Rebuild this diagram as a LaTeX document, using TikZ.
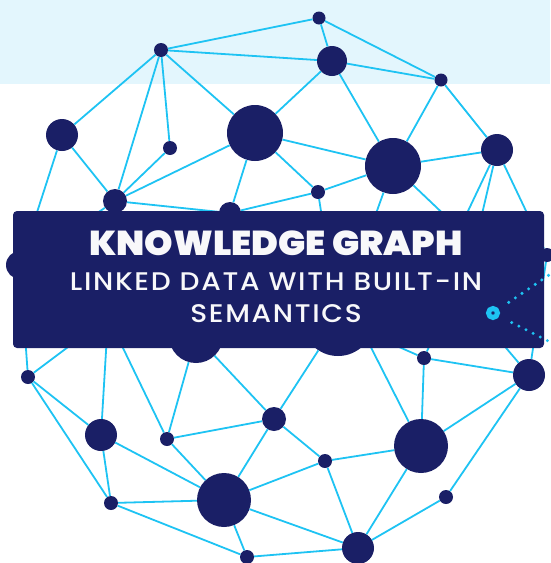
\documentclass[tikz,border=0pt]{standalone}
\usepackage{fontspec}
\setmainfont{Poppins}
\newfontfamily\heavyfont{Poppins}[UprightFont={* Black}]
\newfontfamily\bookfont{Poppins}[UprightFont={* Medium}, LetterSpace=6]
\definecolor{navy}{RGB}{26,31,102}
\definecolor{linkcyan}{RGB}{30,195,243}
\definecolor{bandblue}{RGB}{227,246,253}
\definecolor{offwhite}{RGB}{248,248,250}
\tikzset{
  vertex/.style={circle, fill=navy, inner sep=0pt, minimum size=#1},
  link/.style={draw=linkcyan, line width=1.8pt},
  banner/.style={fill=navy, rounded corners=4pt},
  dotline/.style={draw=linkcyan, line width=3.4pt, line cap=round, dash pattern=on 0pt off 8pt},
  heading/.style={anchor=base, text=offwhite, inner sep=0pt},
}
\begin{document}
\begin{tikzpicture}[x=1pt,y=-1pt]
\useasboundingbox (0,0) rectangle (550,563);
\fill[bandblue] (0,0) rectangle (550,84);

% upper vertices
\node[vertex=13] (A) at (319,18) {};
\node[vertex=30] (B) at (332,61) {};
\node[vertex=13] (C) at (441,80) {};
\node[vertex=14] (D) at (161,50) {};
\node[vertex=32] (E) at (62,135) {};
\node[vertex=14] (F) at (170,148) {};
\node[vertex=56] (G) at (255,133) {};
\node[vertex=24] (H) at (115,201) {};
\node[vertex=22] (I) at (230,213) {};
\node[vertex=56] (J) at (393,166) {};
\node[vertex=32] (K) at (497,150) {};
\node[vertex=14] (L) at (318,192) {};
\node[vertex=28] (Lc) at (20,265) {};
\node[vertex=14] (Rc) at (547,255) {};
% middle vertices, mostly behind the banner
\node[vertex=54] (M1) at (196,336) {};
\node[vertex=72] (M2) at (338,320) {};
\coordinate (Q) at (108,317);
\coordinate (N1) at (475,244);
\coordinate (N2) at (440,270);
\coordinate (N3) at (352,310);
% lower vertices
\node[vertex=14] (P1) at (28,377) {};
\node[vertex=32] (P2) at (101,435) {};
\node[vertex=14] (P3) at (167,439) {};
\node[vertex=24] (P4) at (274,419) {};
\node[vertex=14] (P5) at (424,358) {};
\node[vertex=54] (P6) at (421,446) {};
\node[vertex=32] (P7) at (529,375) {};
\node[vertex=14] (P8) at (325,461) {};
\node[vertex=54] (P9) at (224,500) {};
\node[vertex=14] (P10) at (111,503) {};
\node[vertex=14] (P11) at (446,497) {};
\node[vertex=32] (P12) at (358,548) {};
\node[vertex=14] (P13) at (247,557) {};

% links between the vertices
\foreach \a/\b in {A/D, A/B, A/C, D/B, D/E, D/H, D/F, D/G, E/H, E/Lc, H/F, H/G, H/I,
  H/Lc, G/I, G/B, G/J, G/L, I/L, B/C, B/J, C/J, C/K, J/K, J/L, L/M2, J/M2, J/N1,
  K/N1, K/N2, K/Rc, Lc/P1, Q/P1, H/P2, Q/P3, M1/P3, M1/P4, M2/P4, N3/P6, M2/P5,
  P5/N1, N2/P7, Rc/P7, P1/P2, P1/P10, P2/P9, P2/P10, P10/P9, P10/P13, P9/P13,
  P9/P4, P9/P8, P9/P12, P13/P12, P3/P4, P3/P9, P4/P8, P8/P6, P8/P12, P6/P12,
  P6/P7, P5/P6, P5/P7, P7/P11, P11/P12}
  \path[link] (\a) -- (\b);

% title banner
\fill[banner] (13,211) rectangle (544,348);
\node[heading, font=\heavyfont\fontsize{34.5}{34.5}\selectfont] (title) at (276,255)
  {\scalebox{1.05}[1]{KNOWLEDGE GRAPH}};
\node[heading, font=\bookfont\fontsize{25.5}{25.5}\selectfont] (sub1) at (276,290)
  {\scalebox{1.1}[1]{LINKED DATA WITH BUILT-IN}};
\node[heading, font=\bookfont\fontsize{25.5}{25.5}\selectfont] (sub2) at (276,322)
  {\scalebox{1.1}[1]{SEMANTICS}};

% linked-data marker with its dotted leads
\node[circle, draw=linkcyan, line width=5pt, fill=navy, minimum size=9pt, inner sep=0pt] (ring) at (493,313) {};
\coordinate (up) at (552,273);
\coordinate (dn) at (552,343);
\path[dotline, shorten <=12pt] (ring) -- (up);
\path[dotline, shorten <=14pt] (ring) -- (dn);
\end{tikzpicture}
\end{document}
